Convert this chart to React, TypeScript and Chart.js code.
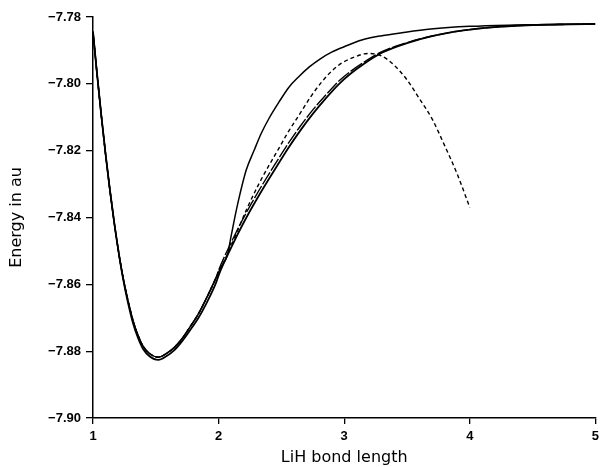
import React, { useEffect, useRef } from "react";
import { Chart, registerables } from "chart.js";

Chart.register(...registerables);

// Bond lengths / energies
const pairX = [1.0, 1.03, 1.066, 1.1, 1.132, 1.17, 1.211, 1.24, 1.277, 1.32, 1.36, 1.4, 1.45, 1.52, 1.58, 1.65, 1.72, 1.77, 1.84, 1.9, 1.98, 2.0, 2.1, 2.2, 2.32, 2.45, 2.55, 2.65, 2.75, 2.85, 2.96, 3.05, 3.15, 3.3, 3.5, 3.7, 3.95, 4.2, 4.5, 4.8, 5.0];
const outerY = [-7.7844, -7.7962, -7.8094, -7.821, -7.831, -7.8418, -7.852, -7.8584, -7.8652, -7.8718, -7.8762, -7.8794, -7.8815, -7.8826, -7.8816, -7.8796, -7.8765, -7.8739, -7.87, -7.8659, -7.8595, -7.8573, -7.849, -7.8415, -7.8335, -7.8255, -7.8195, -7.814, -7.809, -7.8045, -7.8, -7.797, -7.7942, -7.7907, -7.7878, -7.7857, -7.784, -7.783, -7.7824, -7.7822, -7.7821];
const innerY = [-7.7844, -7.7962, -7.8094, -7.821, -7.831, -7.8418, -7.852, -7.8581, -7.8646, -7.871, -7.8754, -7.8786, -7.8807, -7.8818, -7.8808, -7.8788, -7.8757, -7.8729, -7.8688, -7.8644, -7.858, -7.8558, -7.8475, -7.84, -7.832, -7.824, -7.8181, -7.8127, -7.8078, -7.8035, -7.7991, -7.7963, -7.7937, -7.7904, -7.7877, -7.7857, -7.784, -7.783, -7.7824, -7.7822, -7.7821];

const upperX = [1.0, 1.03, 1.066, 1.1, 1.132, 1.17, 1.211, 1.24, 1.277, 1.32, 1.36, 1.4, 1.45, 1.52, 1.58, 1.65, 1.72, 1.77, 1.84, 1.9, 1.98, 2.02, 2.07, 2.1, 2.14, 2.17, 2.22, 2.283, 2.34, 2.402, 2.48, 2.56, 2.64, 2.72, 2.81, 2.9, 3.0, 3.14, 3.3, 3.46, 3.69, 4.0, 4.36, 4.7, 5.0];
const upperY = [-7.7844, -7.7962, -7.8094, -7.821, -7.831, -7.8418, -7.852, -7.8581, -7.8646, -7.871, -7.8754, -7.8786, -7.8807, -7.8818, -7.8808, -7.8788, -7.8757, -7.8729, -7.8688, -7.8644, -7.858, -7.8548, -7.8512, -7.8455, -7.838, -7.833, -7.8258, -7.8199, -7.8148, -7.8103, -7.8055, -7.801, -7.7978, -7.795, -7.7925, -7.7905, -7.7889, -7.7869, -7.7856, -7.7847, -7.7836, -7.7828, -7.7824, -7.7822, -7.7821];

const dashX = [1.0, 1.03, 1.066, 1.1, 1.132, 1.17, 1.211, 1.24, 1.277, 1.32, 1.36, 1.4, 1.45, 1.52, 1.58, 1.65, 1.72, 1.77, 1.84, 1.9, 1.98, 2.0, 2.08, 2.15, 2.23, 2.32, 2.4, 2.48, 2.545, 2.66, 2.74, 2.82, 2.9, 2.98, 3.08, 3.19, 3.3, 3.4, 3.5, 3.6, 3.7, 3.8, 3.9, 4.0];
const dashY = [-7.7844, -7.7962, -7.8094, -7.821, -7.831, -7.8418, -7.852, -7.8581, -7.8646, -7.871, -7.8754, -7.8786, -7.8807, -7.8818, -7.8808, -7.8788, -7.8757, -7.8729, -7.8688, -7.8644, -7.858, -7.8565, -7.8502, -7.844, -7.837, -7.83, -7.8245, -7.8193, -7.815, -7.8082, -7.8035, -7.7995, -7.7962, -7.7938, -7.792, -7.7909, -7.7917, -7.7945, -7.7988, -7.8045, -7.8105, -7.8185, -7.827, -7.837];

const yTicksMin = -7.9;
const yTicksMax = -7.78;
const yStep = 0.02;
const xMin = 1;
const xMax = 5;
const xTitle = "LiH bond length";
const yTitle = "Energy in au";

const pts = (xs: number[], ys: number[]) => xs.map((x, i) => ({ x, y: ys[i] }));

export default function App() {
  const ref = useRef<HTMLCanvasElement | null>(null);
  useEffect(() => {
    if (!ref.current) return;
    const base = {
      borderColor: "#000",
      backgroundColor: "#000",
      pointRadius: 0,
      fill: false,
      cubicInterpolationMode: "monotone" as const,
    };
    const tickFont = { family: "Liberation Sans", weight: "bold" as const, size: 13 };
    const titleFont = { family: "DejaVu Sans", size: 16 };
    const chart = new Chart(ref.current, {
      type: "line",
      data: {
        datasets: [
          { ...base, label: "a", data: pts(pairX, outerY), borderWidth: 1.8 },
          { ...base, label: "b", data: pts(pairX, innerY), borderWidth: 1.4, borderDash: [14, 2] },
          { ...base, label: "c", data: pts(upperX, upperY), borderWidth: 1.5 },
          { ...base, label: "d", data: pts(dashX, dashY), borderWidth: 1.4, borderDash: [4, 3] },
        ],
      },
      options: {
        animation: false,
        responsive: true,
        maintainAspectRatio: false,
        layout: { padding: { left: 0, right: 6, top: 17, bottom: 0 } },
        plugins: { legend: { display: false }, tooltip: { enabled: false } },
        scales: {
          x: {
            type: "linear",
            min: xMin,
            max: xMax,
            ticks: { stepSize: 1, color: "#000", padding: 5, font: tickFont },
            grid: { drawOnChartArea: false, drawTicks: true, tickLength: 6, color: "#000", lineWidth: 1.3 },
            border: { display: true, color: "#000", width: 1.5 },
            title: { display: true, text: xTitle, color: "#000", font: titleFont, padding: { top: 0, bottom: 0 } },
            afterFit: (s: any) => {
              s.height = 49;
            },
          },
          y: {
            type: "linear",
            min: yTicksMin,
            max: yTicksMax,
            ticks: {
              stepSize: yStep,
              color: "#000",
              padding: 5,
              font: tickFont,
              callback: (v: any) => "\u2212" + Math.abs(Number(v)).toFixed(2),
            },
            grid: { drawOnChartArea: false, drawTicks: true, tickLength: 7, color: "#000", lineWidth: 1.3 },
            border: { display: true, color: "#000", width: 1.5 },
            title: { display: true, text: yTitle, color: "#000", font: titleFont, padding: { top: 7, bottom: 0 } },
            afterFit: (s: any) => {
              s.width = 93;
            },
          },
        },
      },
    });
    return () => chart.destroy();
  }, []);
  return (
    <div style={{ position: "fixed", left: 0, top: 0, width: 604, height: 467, background: "#fff" }}>
      <canvas ref={ref} />
    </div>
  );
}
